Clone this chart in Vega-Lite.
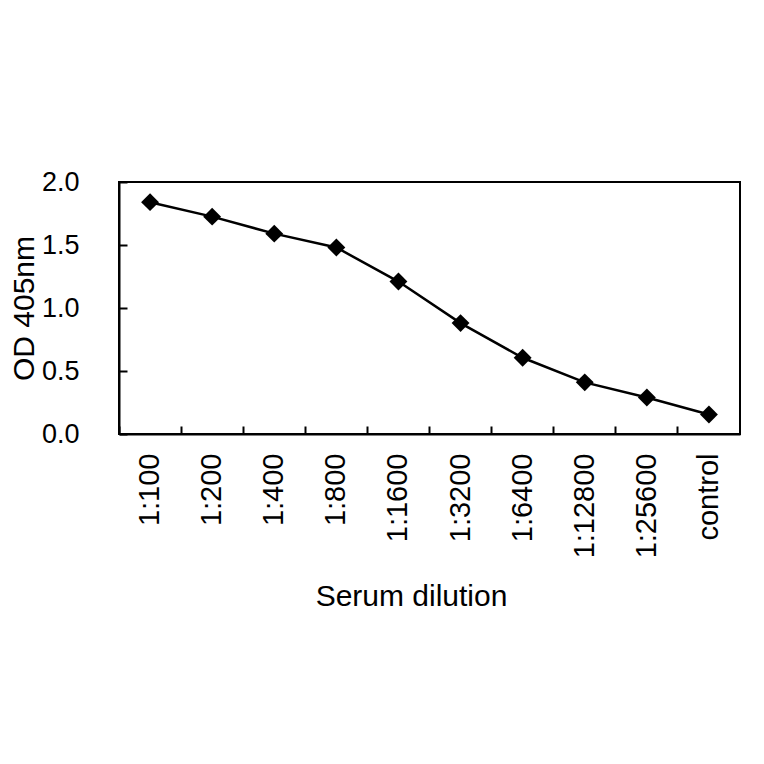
{
  "$schema": "https://vega.github.io/schema/vega-lite/v6.json",
  "autosize": "none",
  "width": 621,
  "height": 252,
  "padding": {"left": 119, "top": 182, "right": 24, "bottom": 330},
  "background": "white",
  "config": {
    "font": "Liberation Sans",
    "view": {"stroke": "black", "strokeWidth": 2},
    "axis": {
      "labelFont": "Liberation Sans",
      "titleFont": "Liberation Sans",
      "labelFontSize": 29,
      "titleFontSize": 30,
      "titleFontWeight": "normal",
      "labelColor": "black",
      "titleColor": "black",
      "domainColor": "black",
      "domainWidth": 2,
      "tickColor": "black",
      "tickWidth": 2,
      "grid": false
    }
  },
  "data": {
    "values": [
      {"dilution": "1:100", "od": 1.84},
      {"dilution": "1:200", "od": 1.725},
      {"dilution": "1:400", "od": 1.59},
      {"dilution": "1:800", "od": 1.48},
      {"dilution": "1:1600", "od": 1.21},
      {"dilution": "1:3200", "od": 0.88},
      {"dilution": "1:6400", "od": 0.605},
      {"dilution": "1:12800", "od": 0.41},
      {"dilution": "1:25600", "od": 0.29},
      {"dilution": "control", "od": 0.155}
    ]
  },
  "layer": [
    {
      "mark": {"type": "line", "color": "black", "strokeWidth": 2.5},
      "encoding": {
        "x": {
          "field": "dilution", "type": "nominal", "sort": null,
          "scale": {"type": "band", "paddingInner": 0, "paddingOuter": 0},
          "axis": {"orient": "bottom", "bandPosition": 0, "labels": false, "ticks": true, "tickSize": -8, "title": null, "domain": true}
        },
        "y": {
          "field": "od", "type": "quantitative",
          "scale": {"domain": [0, 2], "nice": false, "zero": true},
          "axis": {"values": [0, 0.5, 1, 1.5, 2], "format": ".1f", "tickSize": -8, "labelFontSize": 27, "labelPadding": 48, "title": "OD 405nm", "titlePadding": 2}
        }
      }
    },
    {
      "mark": {"type": "point", "shape": "diamond", "filled": true, "color": "black", "size": 320, "opacity": 1},
      "encoding": {
        "x": {
          "field": "dilution", "type": "nominal", "sort": null,
          "axis": {"orient": "bottom", "ticks": false, "tickSize": 0, "domain": false, "labelAngle": -90, "labelPadding": 19, "title": "Serum dilution", "titlePadding": 24, "titleX": 292, "titleAlign": "center"}
        },
        "y": {"field": "od", "type": "quantitative"}
      }
    }
  ],
  "resolve": {"axis": {"x": "independent"}}
}
